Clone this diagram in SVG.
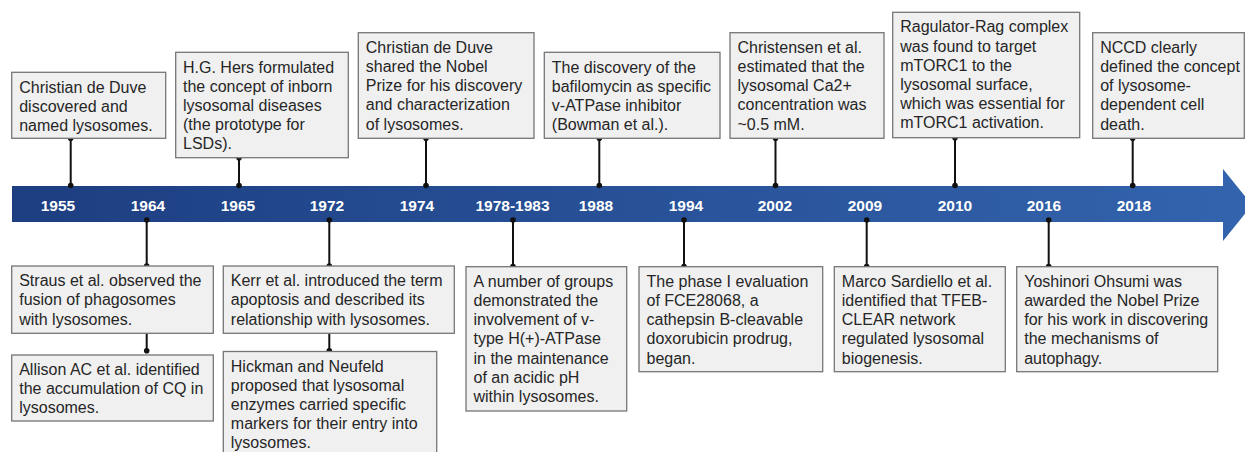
<svg xmlns="http://www.w3.org/2000/svg" width="1245" height="452" viewBox="0 0 1245 452">
<defs>
<linearGradient id="bar" x1="0" y1="0" x2="1" y2="0">
<stop offset="0" stop-color="#1d3e81"/>
<stop offset="1" stop-color="#3364ae"/>
</linearGradient>
<style>
.box{fill:#f0f0f0;stroke:#767676;stroke-width:1.3}
.t{font-family:"Liberation Sans",Arial,sans-serif;font-size:16px;fill:#262626}
.yr{font-family:"Liberation Sans",Arial,sans-serif;font-size:15.5px;font-weight:bold;fill:#ffffff;text-anchor:middle}
.ln{stroke:#111;stroke-width:2;fill:none}
.dot{fill:#111}
</style>
</defs>
<rect width="1245" height="452" fill="#ffffff"/>
<g id="timeline">
<path d="M12 186 H1223 V169 L1252 205 L1223 241 V222 H12 Z" fill="url(#bar)"/>
<text class="yr" x="58" y="210.5">1955</text>
<text class="yr" x="148" y="210.5">1964</text>
<text class="yr" x="238" y="210.5">1965</text>
<text class="yr" x="327" y="210.5">1972</text>
<text class="yr" x="417" y="210.5">1974</text>
<text class="yr" x="512.5" y="210.5">1978-1983</text>
<text class="yr" x="596" y="210.5">1988</text>
<text class="yr" x="686" y="210.5">1994</text>
<text class="yr" x="775" y="210.5">2002</text>
<text class="yr" x="865" y="210.5">2009</text>
<text class="yr" x="955" y="210.5">2010</text>
<text class="yr" x="1044" y="210.5">2016</text>
<text class="yr" x="1134" y="210.5">2018</text>
</g>
<g id="connectors">
<path class="ln" d="M70.7 138.3V186M239 157.7V186M426 138.3V186M599.3 138.3V186M775.5 138.3V186M955 137.7V186M1132.7 138.3V186"/>
<path class="ln" d="M146.7 222V266M329.3 222V266M513 222V266.7M684 222V266.7M866.7 222V266.7M1048.7 222V266.7M146.7 333.3V351M329.3 333.3V351"/>
<g class="dot">
<circle cx="70.7" cy="138.3" r="2.8"/><circle cx="70.7" cy="185.5" r="2.8"/>
<circle cx="239" cy="157.7" r="2.8"/><circle cx="239" cy="185.5" r="2.8"/>
<circle cx="426" cy="138.3" r="2.8"/><circle cx="426" cy="185.5" r="2.8"/>
<circle cx="599.3" cy="138.3" r="2.8"/><circle cx="599.3" cy="185.5" r="2.8"/>
<circle cx="775.5" cy="138.3" r="2.8"/><circle cx="775.5" cy="185.5" r="2.8"/>
<circle cx="955" cy="137.7" r="2.8"/><circle cx="955" cy="185.5" r="2.8"/>
<circle cx="1132.7" cy="138.3" r="2.8"/><circle cx="1132.7" cy="185.5" r="2.8"/>
<circle cx="146.7" cy="220" r="2.8"/><circle cx="146.7" cy="266" r="2.8"/>
<circle cx="329.3" cy="220" r="2.8"/><circle cx="329.3" cy="266" r="2.8"/>
<circle cx="513" cy="220" r="2.8"/><circle cx="513" cy="266.5" r="2.8"/>
<circle cx="684" cy="220" r="2.8"/><circle cx="684" cy="266.5" r="2.8"/>
<circle cx="866.7" cy="220" r="2.8"/><circle cx="866.7" cy="266.5" r="2.8"/>
<circle cx="1048.7" cy="220" r="2.8"/><circle cx="1048.7" cy="266.5" r="2.8"/>
<circle cx="146.7" cy="350.7" r="2.8"/><circle cx="329.3" cy="350.7" r="2.8"/>
</g>
</g>
<g id="n1955">
<rect class="box" x="11.7" y="72.3" width="154" height="66"/>
<text class="t" x="19.2" y="92.5"><tspan x="19.2">Christian de Duve</tspan><tspan x="19.2" dy="19.2">discovered and</tspan><tspan x="19.2" dy="19.2">named lysosomes.</tspan></text>
</g>
<g id="n1965">
<rect class="box" x="175.7" y="52.3" width="172.6" height="105.4"/>
<text class="t" x="183" y="72.5"><tspan x="183">H.G. Hers formulated</tspan><tspan x="183" dy="19.2">the concept of inborn</tspan><tspan x="183" dy="19.2">lysosomal diseases</tspan><tspan x="183" dy="19.2">(the prototype for</tspan><tspan x="183" dy="19.2">LSDs).</tspan></text>
</g>
<g id="n1974">
<rect class="box" x="358.3" y="32.7" width="175.7" height="105.6"/>
<text class="t" x="365.8" y="52.8"><tspan x="365.8">Christian de Duve</tspan><tspan x="365.8" dy="19.2">shared the Nobel</tspan><tspan x="365.8" dy="19.2">Prize for his discovery</tspan><tspan x="365.8" dy="19.2">and characterization</tspan><tspan x="365.8" dy="19.2">of lysosomes.</tspan></text>
</g>
<g id="n1988">
<rect class="box" x="544.3" y="52.3" width="175.7" height="86"/>
<text class="t" x="551.8" y="72.5"><tspan x="551.8">The discovery of the</tspan><tspan x="551.8" dy="19.2">bafilomycin as specific</tspan><tspan x="551.8" dy="19.2">v-ATPase inhibitor</tspan><tspan x="551.8" dy="19.2">(Bowman et al.).</tspan></text>
</g>
<g id="n2002">
<rect class="box" x="730" y="32.7" width="154" height="105.6"/>
<text class="t" x="737.5" y="52.8"><tspan x="737.5">Christensen et al.</tspan><tspan x="737.5" dy="19.2">estimated that the</tspan><tspan x="737.5" dy="19.2">lysosomal Ca2+</tspan><tspan x="737.5" dy="19.2">concentration was</tspan><tspan x="737.5" dy="19.2">~0.5 mM.</tspan></text>
</g>
<g id="n2010">
<rect class="box" x="892.7" y="12.3" width="187" height="125.4"/>
<text class="t" x="900.2" y="32.3"><tspan x="900.2">Ragulator-Rag complex</tspan><tspan x="900.2" dy="19.2">was found to target</tspan><tspan x="900.2" dy="19.2">mTORC1 to the</tspan><tspan x="900.2" dy="19.2">lysosomal surface,</tspan><tspan x="900.2" dy="19.2">which was essential for</tspan><tspan x="900.2" dy="19.2">mTORC1 activation.</tspan></text>
</g>
<g id="n2018">
<rect class="box" x="1092.7" y="32.7" width="151.6" height="105.6"/>
<text class="t" x="1100.2" y="52.8"><tspan x="1100.2">NCCD clearly</tspan><tspan x="1100.2" dy="19.2">defined the concept</tspan><tspan x="1100.2" dy="19.2">of lysosome-</tspan><tspan x="1100.2" dy="19.2">dependent cell</tspan><tspan x="1100.2" dy="19.2">death.</tspan></text>
</g>
<g id="n1964a">
<rect class="box" x="11.7" y="266" width="201.6" height="67.3"/>
<text class="t" x="19.2" y="286.2"><tspan x="19.2">Straus et al. observed the</tspan><tspan x="19.2" dy="19.2">fusion of phagosomes</tspan><tspan x="19.2" dy="19.2">with lysosomes.</tspan></text>
</g>
<g id="n1964b">
<rect class="box" x="11.7" y="355" width="201.6" height="66"/>
<text class="t" x="19.2" y="375"><tspan x="19.2">Allison AC et al. identified</tspan><tspan x="19.2" dy="19.2">the accumulation of CQ in</tspan><tspan x="19.2" dy="19.2">lysosomes.</tspan></text>
</g>
<g id="n1972a">
<rect class="box" x="223.3" y="266" width="231" height="67.3"/>
<text class="t" x="230.8" y="286.2"><tspan x="230.8">Kerr et al. introduced the term</tspan><tspan x="230.8" dy="19.2">apoptosis and described its</tspan><tspan x="230.8" dy="19.2">relationship with lysosomes.</tspan></text>
</g>
<g id="n1972b">
<rect class="box" x="223.3" y="351.5" width="213.4" height="110"/>
<text class="t" x="230.8" y="371.5"><tspan x="230.8">Hickman and Neufeld</tspan><tspan x="230.8" dy="19.2">proposed that lysosomal</tspan><tspan x="230.8" dy="19.2">enzymes carried specific</tspan><tspan x="230.8" dy="19.2">markers for their entry into</tspan><tspan x="230.8" dy="19.2">lysosomes.</tspan></text>
</g>
<g id="n1978">
<rect class="box" x="466" y="266.7" width="160.7" height="144.3"/>
<text class="t" x="473.5" y="286.8"><tspan x="473.5">A number of groups</tspan><tspan x="473.5" dy="19.2">demonstrated the</tspan><tspan x="473.5" dy="19.2">involvement of v-</tspan><tspan x="473.5" dy="19.2">type H(+)-ATPase</tspan><tspan x="473.5" dy="19.2">in the maintenance</tspan><tspan x="473.5" dy="19.2">of an acidic pH</tspan><tspan x="473.5" dy="19.2">within lysosomes.</tspan></text>
</g>
<g id="n1994">
<rect class="box" x="639" y="266.7" width="183.7" height="105"/>
<text class="t" x="646.5" y="286.8"><tspan x="646.5">The phase I evaluation</tspan><tspan x="646.5" dy="19.2">of FCE28068, a</tspan><tspan x="646.5" dy="19.2">cathepsin B-cleavable</tspan><tspan x="646.5" dy="19.2">doxorubicin prodrug,</tspan><tspan x="646.5" dy="19.2">began.</tspan></text>
</g>
<g id="n2009">
<rect class="box" x="834.3" y="266.7" width="171" height="105"/>
<text class="t" x="841.8" y="286.8"><tspan x="841.8">Marco Sardiello et al.</tspan><tspan x="841.8" dy="19.2">identified that TFEB-</tspan><tspan x="841.8" dy="19.2">CLEAR network</tspan><tspan x="841.8" dy="19.2">regulated lysosomal</tspan><tspan x="841.8" dy="19.2">biogenesis.</tspan></text>
</g>
<g id="n2016">
<rect class="box" x="1016.7" y="266.7" width="201" height="105"/>
<text class="t" x="1024.2" y="286.8"><tspan x="1024.2">Yoshinori Ohsumi was</tspan><tspan x="1024.2" dy="19.2">awarded the Nobel Prize</tspan><tspan x="1024.2" dy="19.2">for his work in discovering</tspan><tspan x="1024.2" dy="19.2">the mechanisms of</tspan><tspan x="1024.2" dy="19.2">autophagy.</tspan></text>
</g>
</svg>
